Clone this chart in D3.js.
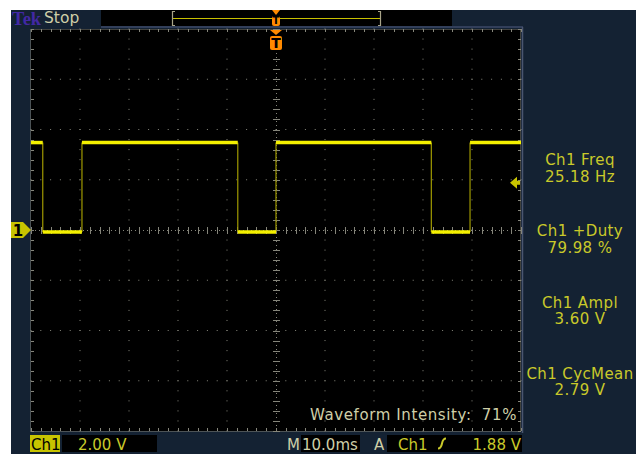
<!DOCTYPE html>
<html>
<head>
<meta charset="utf-8">
<script src="https://cdn.jsdelivr.net/npm/d3@7"></script>
<style>
  html, body { margin: 0; padding: 0; background: #fff; }
  svg { display: block; }
</style>
</head>
<body>
<div id="scope"></div>
<script>
// Scope settings
const timeDomainMs = [-50, 50]        // 10 divisions at 10.0 ms/div, trigger at centre
const voltDomain = [-8, 8]            // 8 divisions at 2.00 V/div, ground at centre
const edgeMs = [-47.6, -39.6, -7.8, 0, 31.7, 39.6]
const levelV = [3.48, -0.08, 3.48, -0.08, 3.48, -0.08, 3.48]
const triggerLevelV = 1.88

const measureLabels = ['Ch1 Freq', 'Ch1 +Duty', 'Ch1 Ampl', 'Ch1 CycMean']
const measureValues = ['25.18 Hz', '79.98 %', '3.60 V', '2.79 V']

const ch1Scale = '2.00 V'
const timebase = '10.0ms'
const triggerText = '1.88 V'
const intensityText = '71%'

;(() => {
  const width = 642
  const height = 454
  const plot = { left: 31, right: 521, top: 29, bottom: 431 }

  const navy = '#142233'
  const gridCol = '#85857a'
  const yellow = '#c9c92a'
  const trace = '#f4f000'
  const khaki = '#cfcfa8'
  const orange = '#ff8a00'
  const font = 'DejaVu Sans, sans-serif'

  const svg = d3.select('#scope')
    .append('svg')
    .attr('width', width)
    .attr('height', height)

  // Frame
  svg.append('rect')
    .attr('x', 11).attr('y', 10)
    .attr('width', 625).attr('height', 444)
    .attr('fill', navy)

  const x = d3.scaleLinear().domain(timeDomainMs).range([plot.left, plot.right])
  const y = d3.scaleLinear().domain(voltDomain).range([plot.bottom, plot.top])

  // Plot area
  svg.append('rect')
    .attr('x', plot.left).attr('y', plot.top)
    .attr('width', plot.right - plot.left).attr('height', plot.bottom - plot.top)
    .attr('fill', '#000')

  // Header strip
  svg.append('rect')
    .attr('x', 101).attr('y', 10).attr('width', 351).attr('height', 16)
    .attr('fill', '#000')
  svg.append('line')
    .attr('x1', 101).attr('x2', 523).attr('y1', 27).attr('y2', 27)
    .attr('stroke', '#3c4a68').attr('stroke-width', 1.5)
  svg.append('line')
    .attr('x1', 522.5).attr('x2', 522.5).attr('y1', 27).attr('y2', 433)
    .attr('stroke', '#4a5670').attr('stroke-width', 1.5)

  svg.append('text')
    .attr('x', 12).attr('y', 25)
    .attr('font-family', 'Liberation Serif, serif')
    .attr('font-weight', 'bold')
    .attr('font-size', 18.5)
    .attr('fill', '#4228a4')
    .text('Tek')
  svg.append('text')
    .attr('x', 44).attr('y', 23)
    .attr('font-family', font)
    .attr('font-size', 15.5)
    .attr('fill', khaki)
    .text('Stop')

  // Record view bracket
  const rec = svg.append('g')
  rec.append('line')
    .attr('x1', 172).attr('x2', 381).attr('y1', 18.5).attr('y2', 18.5)
    .attr('stroke', '#c8c000').attr('stroke-width', 1)
  rec.append('path')
    .attr('d', 'M175,11.5H172.5V25.5H175M378,11.5H380.5V25.5H378')
    .attr('fill', 'none').attr('stroke', '#a8a488').attr('stroke-width', 1.2)

  // Grid dots on major lines
  const minorX = d3.range(timeDomainMs[0], timeDomainMs[1] + 0.01, 2)
  const minorY = d3.range(voltDomain[0], voltDomain[1] + 0.01, 0.4)
  const majorX = d3.range(-40, 41, 10).filter(d => d !== 0)
  const majorY = d3.range(-6, 7, 2).filter(d => d !== 0)

  const grid = svg.append('g').attr('fill', gridCol)
  majorX.forEach(t => {
    grid.selectAll(null)
      .data(minorY)
      .join('rect')
      .attr('x', x(t) - 0.5).attr('y', d => y(d) - 0.5)
      .attr('width', 1).attr('height', 1)
  })
  majorY.forEach(v => {
    grid.selectAll(null)
      .data(minorX)
      .join('rect')
      .attr('x', d => x(d) - 0.5).attr('y', y(v) - 0.5)
      .attr('width', 1).attr('height', 1)
  })

  // Centre axes: fine dotted line with minor ticks
  const axes = svg.append('g').attr('stroke', gridCol).attr('stroke-width', 1)
  axes.append('line')
    .attr('x1', plot.left).attr('x2', plot.right)
    .attr('y1', y(0) + 0.5).attr('y2', y(0) + 0.5)
    .attr('stroke-dasharray', '1,3')
  axes.append('line')
    .attr('x1', x(0) + 0.5).attr('x2', x(0) + 0.5)
    .attr('y1', plot.top).attr('y2', plot.bottom)
    .attr('stroke-dasharray', '1,3')
  axes.selectAll(null)
    .data(minorX)
    .join('line')
    .attr('x1', d => Math.round(x(d)) + 0.5).attr('x2', d => Math.round(x(d)) + 0.5)
    .attr('y1', y(0) - 3).attr('y2', y(0) + 4)
  axes.selectAll(null)
    .data(minorY)
    .join('line')
    .attr('y1', d => Math.round(y(d)) + 0.5).attr('y2', d => Math.round(y(d)) + 0.5)
    .attr('x1', x(0) - 3).attr('x2', x(0) + 4)

  // Border: dotted edge with inward ticks
  const border = svg.append('g').attr('stroke', gridCol).attr('stroke-width', 1)
  border.append('rect')
    .attr('x', plot.left - 0.5).attr('y', plot.top + 0.5)
    .attr('width', plot.right - plot.left).attr('height', plot.bottom - plot.top)
    .attr('fill', 'none')
    .attr('stroke-dasharray', '1,1')
  border.selectAll(null)
    .data(minorX)
    .join('line')
    .attr('x1', d => Math.round(x(d)) + 0.5).attr('x2', d => Math.round(x(d)) + 0.5)
    .attr('y1', plot.top).attr('y2', plot.top + 3)
  border.selectAll(null)
    .data(minorX)
    .join('line')
    .attr('x1', d => Math.round(x(d)) + 0.5).attr('x2', d => Math.round(x(d)) + 0.5)
    .attr('y1', plot.bottom - 3).attr('y2', plot.bottom)
  border.selectAll(null)
    .data(minorY)
    .join('line')
    .attr('y1', d => Math.round(y(d)) + 0.5).attr('y2', d => Math.round(y(d)) + 0.5)
    .attr('x1', plot.left).attr('x2', plot.left + 3)
  border.selectAll(null)
    .data(minorY)
    .join('line')
    .attr('y1', d => Math.round(y(d)) + 0.5).attr('y2', d => Math.round(y(d)) + 0.5)
    .attr('x1', plot.right - 3).attr('x2', plot.right)

  // Waveform: dim vertical edges, bright thick levels
  const bounds = [timeDomainMs[0], ...edgeMs, timeDomainMs[1]]
  const levels = levelV.map((v, i) => ({ t0: bounds[i], t1: bounds[i + 1], v }))
  const edges = edgeMs.map((t, i) => ({ t, v0: levelV[i], v1: levelV[i + 1] }))

  svg.append('g')
    .selectAll('line')
    .data(edges)
    .join('line')
    .attr('x1', d => x(d.t)).attr('x2', d => x(d.t))
    .attr('y1', d => y(d.v0)).attr('y2', d => y(d.v1))
    .attr('stroke', '#a09a00')
    .attr('stroke-width', 1.2)

  svg.append('g')
    .selectAll('line')
    .data(levels)
    .join('line')
    .attr('x1', d => x(d.t0)).attr('x2', d => x(d.t1))
    .attr('y1', d => y(d.v)).attr('y2', d => y(d.v))
    .attr('stroke', trace)
    .attr('stroke-width', 3.5)

  // Trigger position markers (orange T)
  const tx = x(0)
  const drawT = (g, top, w, h, fs) => {
    g.append('path')
      .attr('d', `M${tx - w / 2},${top}H${tx + w / 2}L${tx},${top + 5}Z`)
      .attr('fill', orange)
    g.append('rect')
      .attr('x', tx - w / 2).attr('y', top + 6)
      .attr('width', w).attr('height', h)
      .attr('rx', 2)
      .attr('fill', orange)
    g.append('text')
      .attr('x', tx).attr('y', top + 6 + h - 2)
      .attr('text-anchor', 'middle')
      .attr('font-family', font)
      .attr('font-weight', 'bold')
      .attr('font-size', fs)
      .attr('fill', '#000')
      .text('T')
  }
  drawT(svg.append('g'), 10, 8, 10, 10)
  drawT(svg.append('g'), 30, 12, 14, 14)

  // Channel 1 ground marker
  const gy = y(0)
  svg.append('path')
    .attr('d', `M11,${gy - 8}H23L31,${gy}L23,${gy + 8}H11Z`)
    .attr('fill', '#c8c400')
  svg.append('text')
    .attr('x', 18).attr('y', gy + 6)
    .attr('text-anchor', 'middle')
    .attr('font-family', font)
    .attr('font-weight', 'bold')
    .attr('font-size', 15)
    .attr('fill', '#000')
    .text('1')

  // Trigger level marker on the right
  const ty = y(triggerLevelV)
  svg.append('path')
    .attr('d', `M510,${ty}L517,${ty - 6}V${ty - 2}H520V${ty + 2}H517V${ty + 6}Z`)
    .attr('fill', '#c8c400')

  // Measurements
  const meas = svg.append('g')
    .attr('font-family', font)
    .attr('font-size', 15)
    .attr('letter-spacing', 0.4)
    .attr('fill', yellow)
    .attr('text-anchor', 'middle')
  meas.selectAll('text.label')
    .data(measureLabels)
    .join('text')
    .attr('class', 'label')
    .attr('x', 580)
    .attr('y', (d, i) => 165 + i * 71.3)
    .text(d => d)
  meas.selectAll('text.value')
    .data(measureValues)
    .join('text')
    .attr('class', 'value')
    .attr('x', 580)
    .attr('y', (d, i) => 181.5 + i * 71.3)
    .text(d => d)

  // Waveform intensity readout
  svg.append('text')
    .attr('x', 310).attr('y', 420)
    .attr('font-family', font).attr('font-size', 15)
    .attr('letter-spacing', 0.6)
    .attr('fill', khaki)
    .text('Waveform Intensity:')
  svg.append('text')
    .attr('x', 517).attr('y', 420)
    .attr('text-anchor', 'end')
    .attr('font-family', font).attr('font-size', 15)
    .attr('letter-spacing', 0.6)
    .attr('fill', khaki)
    .text(intensityText)

  // Bottom status bar
  const bar = svg.append('g').attr('font-family', font).attr('font-size', 15)
  bar.append('rect')
    .attr('x', 30).attr('y', 435).attr('width', 30).attr('height', 17)
    .attr('fill', '#c8c400')
  bar.append('text')
    .attr('x', 31).attr('y', 450)
    .attr('fill', '#000')
    .text('Ch1')
  bar.append('rect')
    .attr('x', 62).attr('y', 435).attr('width', 95).attr('height', 17)
    .attr('fill', '#000')
  bar.append('text')
    .attr('x', 78).attr('y', 450)
    .attr('fill', yellow)
    .text(ch1Scale)

  bar.append('text')
    .attr('x', 287).attr('y', 450)
    .attr('fill', khaki)
    .text('M')
  bar.append('rect')
    .attr('x', 301).attr('y', 435).attr('width', 59).attr('height', 17)
    .attr('fill', '#000')
  bar.append('text')
    .attr('x', 302).attr('y', 450)
    .attr('fill', khaki)
    .text(timebase)

  bar.append('text')
    .attr('x', 374).attr('y', 450)
    .attr('fill', khaki)
    .text('A')
  bar.append('rect')
    .attr('x', 387).attr('y', 435).attr('width', 135).attr('height', 17)
    .attr('fill', '#000')
  bar.append('text')
    .attr('x', 398).attr('y', 450)
    .attr('fill', yellow)
    .text('Ch1')
  bar.append('path')
    .attr('d', 'M438,448.5Q441,448.5 442,443.5T446,438.5')
    .attr('fill', 'none')
    .attr('stroke', yellow)
    .attr('stroke-width', 2)
  bar.append('text')
    .attr('x', 521).attr('y', 450)
    .attr('text-anchor', 'end')
    .attr('fill', yellow)
    .text(triggerText)
})()
</script>
</body>
</html>
